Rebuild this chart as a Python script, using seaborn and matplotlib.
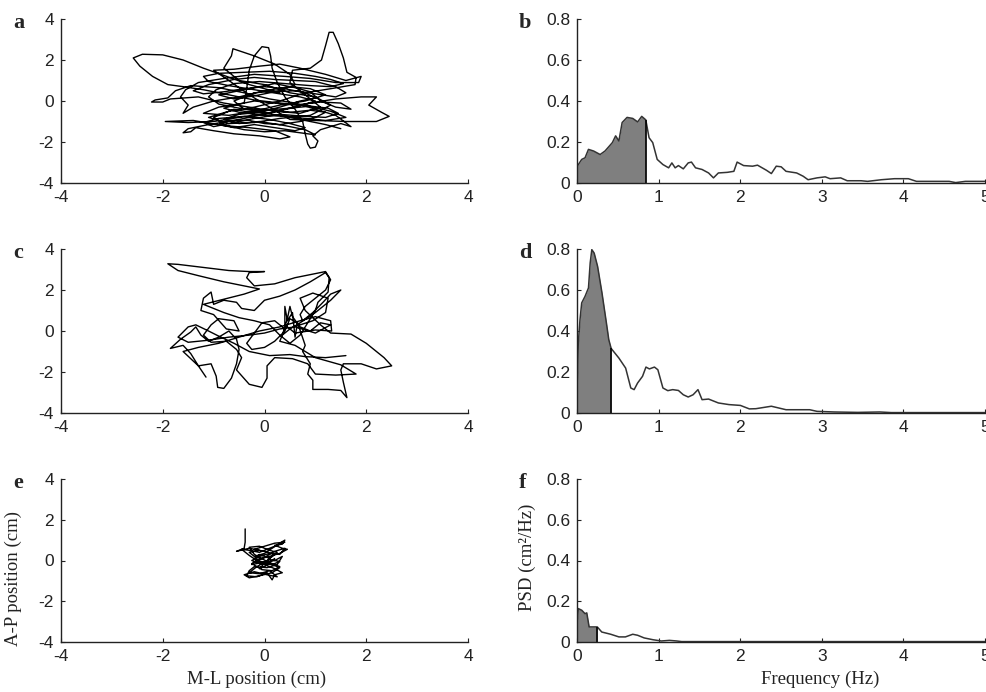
import numpy as np
import pandas as pd
import matplotlib
matplotlib.use('Agg')
import matplotlib.pyplot as plt
import seaborn as sns

# ---------------- data ----------------
traj_ticks = [-4, -2, 0, 2, 4]
psd_xticks = [0, 1, 2, 3, 4, 5]
psd_yticks = [0, 0.2, 0.4, 0.6, 0.8]
psd_yticklabels = ['0', '0.2', '0.4', '0.6', '0.8']

# panel a: CoP trajectory (M-L, A-P) in cm
a_x = [0.3, -0.3, -0.8, -1.2, -1.6, -2.0, -2.4, -2.58, -2.45, -2.2,
       -1.9, -1.6, -1.2, -0.7, -0.2, 0.3, 0.8, 1.3, 1.6, 1.2,
       0.6, 0.0, -0.5, -1.0, -1.5, -1.95, -1.4, -0.8, -0.3, 0.2,
       0.5, 0.3, -0.1, -0.6, -1.0, -1.35, -1.45, -1.6, -1.5, -1.1,
       -0.6, -0.1, 0.4, 0.9, 1.4, 1.9, 2.2, 2.05, 2.3, 2.45,
       2.2, 1.6, 1.0, 0.5, 0.1, -0.3, -0.7, -1.0, -0.6, -0.1,
       0.3, 0.7, 1.2, 1.6, 1.9, 1.85, 1.4, 0.9, 0.4, -0.2,
       -0.8, -1.3, -1.55, -1.65, -1.5, -1.6, -1.4, -1.0, -0.5, 0.0,
       0.5, 0.9, 1.2, 0.8, 0.3, -0.2, -0.7, -1.2, -0.9, -0.4,
       -0.35, -0.3, -0.2, -0.05, 0.08, 0.12, 0.15, 0.25, 0.4, 0.6,
       0.75, 0.8, 0.85, 0.9, 1.0, 1.05, 0.95, 1.1, 1.5, 1.7,
       1.4, 1.0, 0.6, 0.1, -0.4, -0.9, -1.45, -1.75, -1.9, -2.15,
       -2.22, -2.0, -1.85, -1.3, -0.8, -0.3, 0.2, 0.7, 1.1, 0.8,
       0.5, 0.55, 0.9, 1.12, 1.2, 1.27, 1.35, 1.45, 1.55, 1.62,
       1.8, 1.78, 1.3, 0.8, 0.3, -0.2, -0.7, -1.1, -0.7, -0.2,
       0.3, 0.9, 1.3, 1.0, 0.5, 0.0, -0.5, -0.8, -0.65, -0.62,
       -0.2, 0.2, 0.5, 0.6, 0.3, -0.2, -0.6, -0.4, 0.1, 0.6,
       1.0, 0.7,
       0.3, -0.2, -0.7, -1.1, -1.2, -0.9, -0.4, 0.1, 0.6, 1.0,
       1.3, 1.55, 1.3, 0.9, 0.4, -0.1, -0.6, -0.95, -1.1, -0.9,
       -0.5, 0.0, 0.5, 0.9, 1.25, 1.45, 1.2, 0.8, 0.3, -0.2,
       -0.6, -1.0, -1.2, -0.9, -0.4, 0.1, 0.5, 0.8, 0.6, 0.2,
       -0.2, -0.6, -0.9, -0.7, -0.3, 0.0, 0.3, 0.7, 1.0, 1.2,
       0.9, 0.5, 0.1, -0.3, -0.6, -0.8, -1.0, -0.75, -0.4, 0.0,
       0.4, 0.7, 1.0, 0.8, 0.4, -0.1, -0.5, -0.8, -0.5, -0.1,
       0.3, 0.7, 1.0, 0.8, 0.4, 0.0, -0.4, -0.8, -1.2, -1.4,
       -1.1, -0.6, -0.2, 0.2, 0.6, 1.0, 1.4, 1.6, 1.4, 1.0,
       0.6, 0.2, -0.2, -0.6, -0.9, -0.6, -0.2, 0.2, 0.6, 0.9,
       1.1, 1.4, 1.7, 1.5, 1.1, 0.6, 0.2, -0.2, -0.5, -0.8,
       -0.5, 0.0, 0.4, 0.8, 1.2, 1.5]
a_y = [0.4, 0.8, 1.25, 1.6, 2.0, 2.25, 2.28, 2.1, 1.7, 1.2,
       0.8, 0.7, 0.55, 0.3, 0.05, -0.1, -0.2, -0.5, -0.8, -0.95,
       -0.8, -0.6, -0.8, -1.0, -1.05, -1.0, -0.95, -1.2, -1.3, -1.45,
       -1.75, -1.85, -1.7, -1.6, -1.45, -1.3, -1.5, -1.55, -1.35, -1.15,
       -0.95, -0.7, -0.4, -0.1, 0.1, 0.2, 0.2, -0.2, -0.55, -0.75,
       -1.0, -1.0, -0.95, -0.9, -0.3, 0.3, 1.0, 1.5, 1.55, 1.7,
       1.8, 1.6, 1.3, 1.0, 1.2, 0.9, 0.9, 1.1, 1.2, 1.3,
       1.1, 0.9, 0.55, 0.2, -0.2, -0.6, -0.3, 0.0, 0.2, 0.5,
       0.7, 0.6, 0.3, 0.0, -0.2, -0.5, -0.7, -0.6, -0.3, -0.1,
       0.6, 1.5, 2.2, 2.65, 2.6, 2.2, 1.6, 0.9, 0.2, -0.4,
       -1.0, -1.6, -2.1, -2.3, -2.25, -1.95, -1.7, -1.4, -1.1, -1.25,
       -0.7, -0.4, -0.1, 0.1, 0.4, 0.65, 0.75, 0.5, 0.15, 0.05,
       -0.05, -0.05, 0.1, 0.2, -0.1, -0.3, -0.5, -0.6, -0.3, 0.3,
       0.9, 1.5, 1.6, 2.0, 2.7, 3.35, 3.35, 2.8, 2.1, 1.4,
       1.15, 0.8, 0.6, 0.4, 0.0, -0.3, -0.5, -0.8, -1.1, -1.05,
       -0.85, -0.7, -0.2, 0.2, 0.4, 0.8, 1.0, 1.6, 2.2, 2.55,
       2.2, 1.8, 1.3, 0.8, 0.5, 0.4, 0.0, -0.4, -0.6, -0.3,
       0.0, 0.2,
       0.35, 0.55, 0.75, 0.95, 1.2, 1.35, 1.4, 1.45, 1.35, 1.2,
       1.05, 0.85, 0.7, 0.75, 0.85, 0.95, 0.85, 0.55, 0.2, -0.15,
       -0.35, -0.45, -0.35, -0.25, -0.35, -0.6, -0.8, -0.75, -0.65, -0.85,
       -1.05, -1.25, -1.05, -0.85, -0.75, -0.9, -1.1, -1.3, -1.45, -1.3,
       -1.15, -1.3, -1.15, -0.95, -0.95, -1.1, -1.15, -1.0, -0.8, -0.55,
       -0.45, -0.55, -0.45, -0.55, -0.4, -0.6, -0.8, -1.2, -1.4, -1.5,
       -1.45, -1.55, -1.65, -1.4, -1.2, -1.0, -1.1, -0.9, -0.65, -0.55,
       -0.3, 0.0, 0.15, 0.4, 0.6, 0.7, 0.6, 0.45, 0.35, 0.5,
       0.8, 1.05, 1.15, 1.05, 1.0, 0.95, 0.7, 0.4, 0.2, 0.35,
       0.5, 0.45, 0.25, 0.1, 0.3, 0.45, 0.65, 0.85, 0.65, 0.45,
       0.0, -0.3, -0.4, -0.1, -0.05, -0.2, -0.1, 0.0, -0.15, -0.35,
       -0.55, -0.7, -0.75, -0.95, -1.15, -1.35]

# panel c: CoP trajectory
c_x = [-1.15, -1.3, -1.45, -1.6, -1.85, -1.65, -1.45, -1.35, -1.25, -1.1,
       -0.9, -0.7, -0.55, -0.5, -0.55, -0.65, -0.8, -0.92, -0.95, -1.05,
       -1.3, -1.45, -1.6, -1.3, -0.9, -0.5, -0.1, 0.3, 0.7, 1.0,
       1.3, 1.32, 1.0, 0.6, 0.4, 0.4, 0.45, 0.55, 0.6, 0.65,
       0.8, 0.75, 0.9, 0.85, 0.95, 0.95, 1.25, 1.5, 1.62, 1.55,
       1.5, 1.55, 1.9, 2.2, 2.5, 2.35, 2.0, 1.7, 1.3, 1.1,
       0.8, 0.7, 0.95, 1.25, 1.2, 0.95, 0.7, 0.5, 0.4, 0.2,
       0.0, -0.25, -0.35, -0.2, -0.05, 0.2, 0.4, 0.3, 0.6, 1.0,
       1.5, 1.8, 1.4, 1.0, 0.85, 0.55, 0.2, 0.05, 0.05, -0.05,
       -0.3, -0.55, -0.45, -0.55, -0.75, -1.05, -1.2, -1.05, -0.9, -0.6,
       -0.5, -0.75, -1.0, -1.25, -1.2, -1.05, -1.0, -0.8, -0.55, -0.45,
       -0.2, 0.0, 0.3, 0.6, 0.9, 1.2, 1.27, 1.25, 1.05, 1.0,
       0.85, 0.7, 0.5, 0.3, 0.1, -0.2, -0.5, -0.8, -1.2, -0.8,
       -0.4, -0.1, -0.4, -0.8, -1.3, -1.7, -1.9, -1.7, -1.2, -0.7,
       -0.3, 0.0, -0.3, -0.35, -0.2, 0.2, 0.6, 1.0, 1.2,
       1.3, 1.2, 1.0, 0.8, 0.7, 0.75, 0.95, 1.15, 1.3, 1.5,
       1.3, 1.0, 0.7, 0.5, 0.35, 0.45, 0.5, 0.55, 0.7, 0.9,
       1.1, 1.3, 1.0, 0.6, 0.3, 0.0, -0.3, -0.7, -1.1, -1.5,
       -1.7, -1.5, -1.35, -1.1, -0.9, -0.6, -0.3, 0.1, 0.5, 0.8,
       1.2, 1.6]
c_y = [-2.25, -1.7, -1.1, -0.7, -0.85, -0.4, -0.05, 0.2, -0.2, -0.5,
       -0.3, 0.0, -0.4, -0.9, -1.6, -2.3, -2.8, -2.75, -2.2, -1.6,
       -1.7, -1.35, -1.0, -0.8, -0.6, -0.3, 0.0, 0.2, 0.5, 0.7,
       0.5, 0.0, 0.05, -0.1, 0.3, 1.2, 0.5, 0.9, -0.3, 0.4,
       -0.7, -1.0, -1.6, -2.1, -2.4, -2.85, -2.85, -2.9, -3.25, -2.5,
       -1.9, -1.6, -1.6, -1.85, -1.7, -1.3, -0.6, -0.15, -0.1, 0.3,
       1.0, 1.6, 1.85, 1.6, 0.9, 0.5, 0.3, 0.6, 0.0, -0.5,
       -0.8, -0.9, -0.6, -0.1, 0.4, 0.5, 0.1, -0.5, -0.7, -1.3,
       -1.65, -2.1, -2.15, -2.1, -1.6, -1.35, -1.3, -1.7, -2.3, -2.75,
       -2.6, -1.9, -1.3, -0.9, -0.5, -0.55, -0.2, 0.3, 0.6, 0.5,
       0.0, 0.1, 0.8, 1.0, 1.6, 1.9, 1.3, 1.5, 1.4, 1.1,
       1.0, 1.5, 1.7, 2.0, 2.4, 2.85, 2.6, 1.9, 1.4, 1.0,
       0.4, -0.2, -0.6, -0.2, 0.3, 0.5, 0.65, 0.9, 1.3, 1.55,
       1.8, 2.05, 2.2, 2.4, 2.7, 2.95, 3.28, 3.25, 3.1, 2.95,
       2.9, 2.9, 2.85, 2.6, 2.2, 2.3, 2.6, 2.8, 2.9,
       2.5, 2.0, 1.6, 1.2, 0.8, 0.5, 0.9, 1.4, 1.8, 2.0,
       1.5, 0.9, 0.4, 0.1, -0.2, 0.6, 1.2, 0.7, 0.2, 0.0,
       0.4, 0.3, -0.1, 0.2, 0.1, -0.1, -0.2, -0.3, -0.45, -0.55,
       -0.3, 0.2, 0.3, 0.0, -0.25, -0.6, -1.0, -1.2, -1.15, -1.25,
       -1.3, -1.2]

# panel e: CoP trajectory
e_x = [-0.38, -0.38, -0.4, -0.55, -0.3, -0.1, -0.3, -0.2, 0.0, 0.15,
       0.3, 0.4, 0.35, 0.2, 0.35, 0.45, 0.3, 0.1, -0.15, -0.25,
       -0.05, 0.2, 0.35, 0.25, 0.05, -0.2, -0.3, -0.35, -0.15, 0.05,
       0.15, 0.2, 0.35, 0.2, 0.0, -0.2, -0.1, 0.1, 0.25, 0.1,
       -0.1, -0.3, -0.2, 0.05, 0.3, 0.15, -0.05, -0.25, 0.0, 0.2,
       0.4, 0.3, 0.1, -0.1, -0.25, -0.1, 0.15, 0.3, 0.1, -0.15,
       -0.3, -0.1, 0.1, 0.25, 0.05, -0.2, -0.4, -0.3, -0.1, 0.15,
       0.3, 0.1, -0.15, -0.3, -0.45, -0.3, -0.1, 0.1, 0.25, 0.4,
       0.2, 0.0, -0.2, 0.0, 0.2, 0.05, -0.1, 0.0, 0.2]
e_y = [1.55, 0.9, 0.6, 0.45, 0.6, 0.5, 0.4, 0.2, 0.35, 0.6,
       0.85, 1.0, 0.8, 0.75, 0.6, 0.55, 0.35, 0.2, 0.05, -0.2,
       -0.1, 0.0, 0.2, -0.2, -0.35, -0.3, -0.5, -0.75, -0.8, -0.6,
       -0.95, -0.7, -0.6, -0.4, -0.2, 0.1, 0.3, 0.1, 0.4, 0.5,
       0.7, 0.65, 0.3, -0.05, -0.3, -0.5, -0.45, -0.15, 0.15, 0.45,
       0.6, 0.3, 0.35, 0.2, 0.0, -0.15, -0.2, -0.05, 0.05, -0.3,
       -0.6, -0.65, -0.5, -0.8, -0.7, -0.55, -0.7, -0.85, -0.75, -0.6,
       -0.35, -0.15, 0.0, 0.25, 0.55, 0.5, 0.4, 0.6, 0.75, 0.9,
       0.85, 0.7, 0.55, 0.45, 0.3, 0.0, -0.4, -0.3, 0.1]

# PSD curves (Hz, cm^2/Hz)
b_f = [0.0, 0.054, 0.095, 0.137, 0.2, 0.28, 0.34, 0.43, 0.47, 0.51,
       0.55, 0.61, 0.68, 0.74, 0.79, 0.84, 0.88, 0.925, 0.98, 1.05,
       1.12, 1.16, 1.2, 1.24, 1.3, 1.36, 1.4, 1.45, 1.53, 1.61,
       1.67, 1.73, 1.84, 1.92, 1.96, 2.04, 2.15, 2.21, 2.32, 2.38,
       2.44, 2.5, 2.56, 2.69, 2.77, 2.83, 2.94, 3.04, 3.1, 3.23,
       3.31, 3.48, 3.56, 3.73, 3.89, 4.06, 4.16, 4.56, 4.64, 4.76, 5.0]
b_p = [0.082, 0.115, 0.123, 0.164, 0.156, 0.139, 0.156, 0.197, 0.23, 0.205,
       0.295, 0.32, 0.315, 0.298, 0.325, 0.308, 0.221, 0.197, 0.115, 0.09,
       0.074, 0.098, 0.074, 0.085, 0.069, 0.098, 0.102, 0.074, 0.066, 0.049,
       0.025, 0.049, 0.052, 0.057, 0.102, 0.085, 0.082, 0.087, 0.062, 0.046,
       0.082, 0.079, 0.057, 0.049, 0.033, 0.016, 0.025, 0.03, 0.021, 0.025,
       0.011, 0.011, 0.008, 0.016, 0.021, 0.021, 0.008, 0.008, 0.002, 0.008, 0.008]
b_cut = 0.84

d_f = [0.0, 0.012, 0.033, 0.054, 0.095, 0.137, 0.158, 0.178, 0.207, 0.249,
       0.303, 0.357, 0.386, 0.415, 0.427, 0.51, 0.593, 0.656, 0.697, 0.739,
       0.8, 0.842, 0.884, 0.946, 0.988, 1.05, 1.11, 1.17, 1.24, 1.3,
       1.36, 1.42, 1.48, 1.53, 1.61, 1.73, 1.86, 2.0, 2.11, 2.19,
       2.38, 2.56, 2.85, 2.94, 3.15, 3.44, 3.71, 3.85, 5.0]
d_p = [0.16, 0.34, 0.455, 0.537, 0.569, 0.61, 0.732, 0.797, 0.78, 0.715,
       0.585, 0.439, 0.358, 0.315, 0.309, 0.268, 0.219, 0.122, 0.114, 0.146,
       0.179, 0.224, 0.215, 0.224, 0.211, 0.122, 0.109, 0.114, 0.11, 0.089,
       0.078, 0.089, 0.114, 0.065, 0.068, 0.049, 0.041, 0.037, 0.02, 0.021,
       0.033, 0.016, 0.016, 0.008, 0.005, 0.003, 0.005, 0.002, 0.002]
d_cut = 0.415

f_f = [0.0, 0.012, 0.054, 0.095, 0.116, 0.145, 0.2, 0.245, 0.3, 0.41,
       0.51, 0.59, 0.68, 0.74, 0.82, 0.93, 1.03, 1.13, 1.22, 1.28, 5.0]
f_p = [0.107, 0.164, 0.156, 0.139, 0.143, 0.074, 0.074, 0.074, 0.049, 0.038,
       0.025, 0.025, 0.038, 0.033, 0.02, 0.011, 0.005, 0.008, 0.005, 0.002, 0.002]
f_cut = 0.245

# ---------------- style ----------------
sns.set_style('ticks')
plt.rcParams['font.family'] = ['Liberation Sans', 'DejaVu Sans']
plt.rcParams['axes.edgecolor'] = '#222222'
plt.rcParams['axes.linewidth'] = 1.0
plt.rcParams['axes.unicode_minus'] = False

W, H = 986, 692
fig = plt.figure(figsize=(W / 100, H / 100), dpi=100)


def add_axes(l, t, r, b):
    return fig.add_axes([l / W, 1 - b / H, (r - l) / W, (b - t) / H])


rows = [(19, 183), (249, 413), (479, 642)]
LC = (61, 468)
RC = (577.3, 985)


def style(ax):
    sns.despine(ax=ax)
    ax.tick_params(direction='in', length=3, width=0.8, labelsize=12.5,
                   colors='#222222', pad=5)
    ax.set_xlabel('')
    ax.set_ylabel('')


def traj(ax, xs, ys):
    df = pd.DataFrame({'ML': xs, 'AP': ys})
    sns.lineplot(data=df, x='ML', y='AP', sort=False, estimator=None,
                 color='black', linewidth=1.0, ax=ax)
    ax.set_xlim(-4, 4)
    ax.set_ylim(-4, 4)
    ax.set_xticks(traj_ticks)
    ax.set_yticks(traj_ticks)
    style(ax)


def psd(ax, fs, ps, cut):
    df = pd.DataFrame({'f': fs, 'p': ps})
    fa = np.array(fs)
    pa = np.array(ps)
    m = fa <= cut + 1e-9
    ax.fill_between(fa[m], 0, pa[m], color='#7f7f7f', linewidth=0)
    sns.lineplot(data=df, x='f', y='p', sort=False, estimator=None,
                 color='#333333', linewidth=1.1, ax=ax)
    ax.vlines(cut, 0, np.interp(cut, fa, pa), color='black', linewidth=1.2)
    ax.set_xlim(0, 5)
    ax.set_ylim(0, 0.8)
    ax.set_xticks(psd_xticks)
    ax.set_yticks(psd_yticks)
    ax.set_yticklabels(psd_yticklabels)
    style(ax)


traj_data = [(a_x, a_y), (c_x, c_y), (e_x, e_y)]
psd_data = [(b_f, b_p, b_cut), (d_f, d_p, d_cut), (f_f, f_p, f_cut)]
letters = [('a', 'b'), ('c', 'd'), ('e', 'f')]
axes = []
for i, (t, b) in enumerate(rows):
    axl = add_axes(LC[0], t, LC[1], b)
    traj(axl, *traj_data[i])
    axr = add_axes(RC[0], t, RC[1], b)
    psd(axr, *psd_data[i])
    axes.append((axl, axr))
    fig.text(13 / W, 1 - (t + 9) / H, letters[i][0], family='Liberation Serif',
             weight='bold', size=16, va='baseline', ha='left')
    fig.text(519 / W, 1 - (t + 9) / H, letters[i][1], family='Liberation Serif',
             weight='bold', size=16, va='baseline', ha='left')

axe, axf = axes[2]
serif = dict(family='Liberation Serif', size=13.5, color='#222222')
axe.set_ylabel('A-P position (cm)', **serif)
axe.yaxis.set_label_coords(-0.097, 0.39)
axe.set_xlabel('M-L position (cm)', **serif)
axe.xaxis.set_label_coords(0.48, -0.175)
axf.set_ylabel('PSD (cm\u00b2/Hz)', **serif)
axf.yaxis.set_label_coords(-0.102, 0.52)
axf.set_xlabel('Frequency (Hz)', **serif)
axf.xaxis.set_label_coords(0.596, -0.175)

fig.savefig('out.png', dpi=100)
